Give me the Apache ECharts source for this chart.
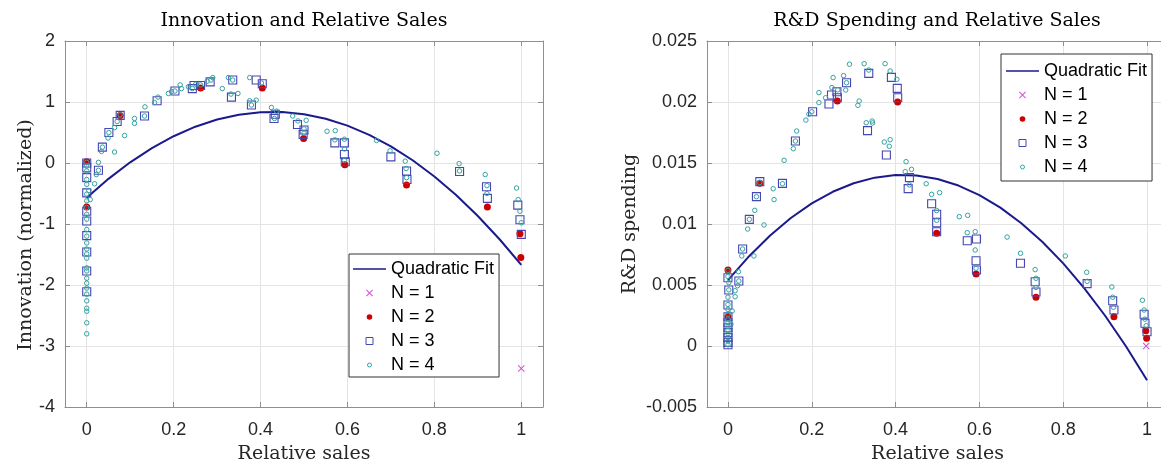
<!DOCTYPE html>
<html>
<head>
<meta charset="utf-8">
<script src="https://cdn.jsdelivr.net/npm/echarts@6/dist/echarts.min.js"></script>
<style>
html,body{margin:0;padding:0;background:#fff;}
#chart{width:1161px;height:461px;}
</style>
</head>
<body>
<div id="chart"></div>
<script>
// ---------- data ----------
const relTicks = [0, 0.2, 0.4, 0.6, 0.8, 1];
const seriesNames = ['Quadratic Fit', 'N = 1', 'N = 2', 'N = 3', 'N = 4'];

const fitX = [0,0.05,0.1,0.15,0.2,0.25,0.3,0.35,0.4,0.45,0.5,0.55,0.6,0.65,0.7,0.75,0.8,0.85,0.9,0.95,1];
const fitInnov = [-0.57,-0.26,0.011,0.244,0.439,0.595,0.713,0.792,0.833,0.836,0.80,0.726,0.613,0.462,0.273,0.045,-0.221,-0.526,-0.869,-1.25,-1.67];
const fitRD = [0.0054,0.00734,0.00904,0.01049,0.01169,0.01264,0.01334,0.0138,0.01401,0.01397,0.01369,0.01315,0.01237,0.01134,0.01006,0.00854,0.00677,0.00475,0.00248,-0.00004,-0.0028];

const innovN1 = [[1.0,-3.37]];
const innovN2 = [[0,0.02],[0,-0.72],[0.077,0.78],[0.262,1.23],[0.404,1.23],[0.499,0.40],[0.594,-0.03],[0.736,-0.36],[0.922,-0.72],[0.997,-1.16],[0.999,-1.55]];
const innovN3 = [[0,0.00],[0,-0.08],[0,-0.24],[0,-0.49],[0,-0.79],[0,-0.95],[0,-1.19],[0,-1.46],[0,-1.77],[0,-2.11],
  [0.027,-0.12],[0.036,0.26],[0.051,0.50],[0.070,0.68],[0.077,0.78],[0.133,0.77],[0.162,1.02],[0.203,1.18],[0.243,1.22],[0.247,1.27],
  [0.262,1.27],[0.284,1.33],[0.336,1.36],[0.333,1.08],[0.379,0.95],[0.390,1.36],[0.404,1.30],[0.431,0.73],[0.434,0.80],[0.485,0.63],
  [0.500,0.54],[0.498,0.47],[0.571,0.33],[0.593,0.33],[0.593,0.14],[0.595,0.02],[0.700,0.10],[0.736,-0.13],[0.737,-0.27],[0.858,-0.14],
  [0.920,-0.39],[0.922,-0.58],[0.992,-0.69],[0.997,-0.93],[1.0,-1.17]];
const innovN4 = [[0,0.01],[0,-0.05],[0,-0.13],[0,-0.27],[0,-0.35],[0,-0.51],[0,-0.62],[0,-0.73],[0,-0.84],[0,-0.92],[0,-1.09],[0,-1.20],
  [0,-1.31],[0,-1.41],[0,-1.49],[0,-1.56],[0,-1.72],[0,-1.77],[0,-1.89],[0,-1.97],[0,-2.05],[0,-2.15],[0,-2.26],[0,-2.38],[0,-2.43],[0,-2.62],[0,-2.80],
  [0.008,-0.60],[0.005,-0.45],[0.018,-0.34],[0.022,-0.19],[0.027,0.01],[0.027,-0.12],[0.034,0.19],[0.036,0.26],[0.049,0.41],[0.051,0.50],
  [0.064,0.58],[0.070,0.68],[0.077,0.79],[0.064,0.18],[0.087,0.45],[0.110,0.73],[0.110,0.65],[0.134,0.92],[0.133,0.77],[0.156,0.99],
  [0.164,1.08],[0.188,1.14],[0.195,1.17],[0.203,1.18],[0.215,1.28],[0.218,1.22],[0.234,1.25],[0.243,1.22],[0.251,1.29],[0.262,1.28],
  [0.277,1.34],[0.286,1.36],[0.290,1.40],[0.312,1.22],[0.326,1.40],[0.332,1.13],[0.348,1.14],[0.336,1.36],[0.375,1.40],[0.375,1.02],
  [0.390,1.03],[0.379,0.95],[0.402,1.31],[0.425,0.91],[0.437,0.85],[0.432,0.73],[0.474,0.77],[0.505,0.70],[0.486,0.69],[0.500,0.56],
  [0.500,0.49],[0.553,0.52],[0.572,0.53],[0.571,0.38],[0.593,0.39],[0.593,0.23],[0.593,0.04],[0.667,0.37],[0.698,0.20],[0.733,0.03],
  [0.735,-0.09],[0.736,-0.24],[0.806,0.16],[0.857,-0.01],[0.858,-0.13],[0.917,-0.19],[0.921,-0.37],[0.921,-0.50],[0.989,-0.41],
  [0.993,-0.60],[0.997,-0.79],[1.0,-0.98]];

const rdN1 = [[0.998,0.0]];
const rdN2 = [[0,0.00623],[0,0.0024],[0.076,0.01333],[0.261,0.02008],[0.405,0.0200],[0.498,0.00924],[0.592,0.0059],[0.735,0.0040],[0.921,0.0024],[0.997,0.00126],[0.999,0.00063]];
const rdN3 = [[0,0.0056],[0.002,0.00459],[0,0.00336],[0,0.0024],[0,0.0019],[0,0.0015],[0,0.0011],[0,0.0007],[0,0.0003],[0,0.0001],
  [0.026,0.00533],[0.035,0.00795],[0.051,0.01038],[0.068,0.01224],[0.076,0.01347],[0.130,0.01333],[0.161,0.0168],[0.202,0.0192],[0.241,0.01984],[0.247,0.02057],
  [0.260,0.02084],[0.261,0.02035],[0.283,0.02158],[0.336,0.02235],[0.333,0.01765],[0.378,0.01566],[0.390,0.02202],[0.404,0.02112],[0.405,0.02035],[0.433,0.0138],
  [0.430,0.0129],[0.486,0.01166],[0.498,0.0108],[0.498,0.0101],[0.498,0.00937],[0.571,0.00863],[0.593,0.00877],[0.592,0.00699],[0.593,0.00623],[0.698,0.00678],
  [0.733,0.00527],[0.735,0.00443],[0.857,0.00511],[0.918,0.00371],[0.921,0.00295],[0.993,0.0026],[0.995,0.00186],[1.0,0.00117]];
const rdN4 = [[0.290,0.0231],[0.325,0.02314],[0.375,0.02314],[0.336,0.02262],[0.387,0.02254],[0.251,0.0220],[0.276,0.02216],[0.283,0.02158],
  [0.281,0.02098],[0.217,0.02077],[0.248,0.02118],[0.262,0.0210],[0.233,0.02035],[0.217,0.01995],[0.313,0.02008],[0.310,0.01973],
  [0.403,0.02186],[0.193,0.0190],[0.186,0.01852],[0.164,0.01762],[0.161,0.0168],[0.156,0.01617],[0.330,0.0183],[0.344,0.01844],
  [0.345,0.01828],[0.373,0.01672],[0.387,0.01691],[0.385,0.01637],[0.134,0.01522],[0.108,0.01289],[0.110,0.0120],[0.064,0.01112],
  [0.086,0.00992],[0.047,0.00959],[0.425,0.01511],[0.423,0.01429],[0.438,0.01448],[0.433,0.0132],[0.473,0.0133],[0.505,0.01257],
  [0.486,0.01243],[0.498,0.0111],[0.498,0.0103],[0.552,0.0106],[0.572,0.01071],[0.571,0.00929],[0.590,0.00937],[0.590,0.00787],
  [0.592,0.00637],[0.666,0.00893],[0.698,0.0076],[0.733,0.00626],[0.735,0.00555],[0.735,0.0048],[0.805,0.00738],[0.856,0.00604],
  [0.857,0.0053],[0.916,0.00484],[0.918,0.0040],[0.920,0.00318],[0.989,0.00375],[0.993,0.00295],[0.995,0.0022],[0.998,0.00166],
  [0.033,0.00738],[0.062,0.00738],[0.025,0.00609],[0.023,0.00494],[0.017,0.00453],[0.017,0.00404],[0.010,0.00287],[0.007,0.0018],
  [0.002,0.0052],[0.002,0.0046],[0.051,0.01038],[0.068,0.01224],[0.076,0.0134],[0.130,0.0133],[0.035,0.00795],[0.026,0.00533],[0.2,0.0192],
  [0,0.0062],[0,0.0057],[0,0.0040],[0,0.0034],[0,0.0030],[0,0.0026],[0,0.0022],[0,0.0019],[0,0.0016],[0,0.0013],[0,0.0010],[0,0.0007],[0,0.0004],[0,0.0001]];

// ---------- styles ----------
const AX = '#8f8f8f';
const GRIDC = '#e4e4e4';
const TXT = '#262626';
const SANS = 'Liberation Sans';
const SERIF = 'DejaVu Serif';
const COL_FIT = '#1a1a8c';
const COL_N1 = '#d94fd9';
const COL_N2 = '#cc0000';
const COL_N3 = '#4646b4';
const COL_N4 = '#33a3a3';
const crossPath = 'path://M0,1L1,0L5,4L9,0L10,1L6,5L10,9L9,10L5,6L1,10L0,9L4,5Z';
const iconLine = 'path://M0,0L33,0L33,1.6L0,1.6Z';
const iconSquare = 'path://M0,0L8,0L8,8L0,8Z';
const iconCircleSmall = 'path://M-3.5,-3.5L-3.5,-3.5M3.5,3.5L3.5,3.5M-2,0A2,2,0,1,1,2,0A2,2,0,1,1,-2,0Z';
const iconDot = 'path://M-4,-4L-4,-4M4,4L4,4M-3.2,0A3.2,3.2,0,1,1,3.2,0A3.2,3.2,0,1,1,-3.2,0Z';

function xAxes(grid) {
  const base = {
    type: 'value', gridIndex: grid, min: -0.05, max: 1.05,
    axisLine: {show: true, onZero: false, lineStyle: {color: AX, width: 1}},
    axisTick: {show: true, inside: true, length: 5, lineStyle: {color: AX}, customValues: relTicks},
  };
  return [
    Object.assign({}, base, {
      position: 'bottom',
      name: 'Relative sales', nameLocation: 'middle', nameGap: 38,
      nameTextStyle: {fontFamily: SERIF, fontSize: 19, color: TXT},
      axisLabel: {show: true, customValues: relTicks, margin: 14, fontFamily: SANS, fontSize: 18, color: TXT,
        formatter: v => String(+(+v).toFixed(3))},
      splitLine: {show: true, lineStyle: {color: GRIDC, width: 1}}
    }),
    Object.assign({}, base, {
      position: 'top', axisLabel: {show: false}, splitLine: {show: false}
    })
  ];
}
function yAxes(grid, min, max, interval, name, gap, namePad) {
  const base = {
    type: 'value', gridIndex: grid, min: min, max: max, interval: interval,
    axisLine: {show: true, onZero: false, lineStyle: {color: AX, width: 1}},
    axisTick: {show: true, inside: true, length: 5, lineStyle: {color: AX}},
  };
  return [
    Object.assign({}, base, {
      position: 'left',
      name: name, nameLocation: 'middle', nameGap: gap,
      nameTextStyle: {fontFamily: SERIF, fontSize: 19, color: TXT, padding: namePad},
      axisLabel: {show: true, margin: 10, fontFamily: SANS, fontSize: 18, color: TXT},
      splitLine: {show: true, lineStyle: {color: GRIDC, width: 1}}
    }),
    Object.assign({}, base, {
      position: 'right', axisLabel: {show: false}, splitLine: {show: false}
    })
  ];
}

function seriesFor(xi, yi, fitY, n1, n2, n3, n4) {
  return [
    {name: seriesNames[0], type: 'line', xAxisIndex: xi, yAxisIndex: yi, symbol: 'none', showSymbol: false, z: 2,
      lineStyle: {color: COL_FIT, width: 2}, itemStyle: {color: COL_FIT},
      data: fitX.map((x, i) => [x, fitY[i]])},
    {name: seriesNames[1], type: 'scatter', xAxisIndex: xi, yAxisIndex: yi, symbol: crossPath, symbolSize: 7, z: 3,
      itemStyle: {color: COL_N1, opacity: 1}, data: n1},
    {name: seriesNames[2], type: 'scatter', xAxisIndex: xi, yAxisIndex: yi, symbol: 'circle', symbolSize: 7, z: 4,
      itemStyle: {color: COL_N2, opacity: 1}, data: n2},
    {name: seriesNames[3], type: 'scatter', xAxisIndex: xi, yAxisIndex: yi, symbol: 'rect', symbolSize: 8, z: 5,
      itemStyle: {color: 'rgba(0,0,0,0)', borderColor: COL_N3, borderWidth: 1.1, opacity: 1}, data: n3},
    {name: seriesNames[4], type: 'scatter', xAxisIndex: xi, yAxisIndex: yi, symbol: 'circle', symbolSize: 4.5, z: 6,
      itemStyle: {color: 'rgba(0,0,0,0)', borderColor: COL_N4, borderWidth: 1, opacity: 1}, data: n4}
  ];
}

function legendAt(left, top, pad) {
  return {
    orient: 'vertical', left: left, top: top, padding: pad,
    itemWidth: 33, itemHeight: 7, itemGap: 0,
    backgroundColor: '#fff', borderColor: '#333', borderWidth: 1,
    itemStyle: {borderWidth: 1},
    textStyle: {fontFamily: SANS, fontSize: 18, color: '#000', lineHeight: 24},
    data: [
      {name: seriesNames[0], icon: iconLine},
      {name: seriesNames[1], icon: crossPath},
      {name: seriesNames[2], icon: iconDot},
      {name: seriesNames[3], icon: iconSquare},
      {name: seriesNames[4], icon: iconCircleSmall}
    ]
  };
}

const chart = echarts.init(document.getElementById('chart'), null, {renderer: 'canvas'});
chart.setOption({
  animation: false,
  backgroundColor: '#fff',
  title: [
    {text: 'Innovation and Relative Sales', left: 304, top: 12, textAlign: 'center', padding: 0,
      textStyle: {fontFamily: SERIF, fontSize: 19, fontWeight: 'normal', color: '#000'}},
    {text: 'R&D Spending and Relative Sales', left: 937, top: 12, textAlign: 'center', padding: 0,
      textStyle: {fontFamily: SERIF, fontSize: 19, fontWeight: 'normal', color: '#000'}}
  ],
  grid: [
    {left: 65, top: 41, width: 478, height: 366, outerBoundsMode: 'none', containLabel: false},
    {left: 707, top: 41, width: 461, height: 366, outerBoundsMode: 'none', containLabel: false}
  ],
  xAxis: xAxes(0).concat(xAxes(1)),
  yAxis: yAxes(0, -4, 2, 1, 'Innovation (normalized)', 29, [0, 22, 0, 0])
    .concat(yAxes(1, -0.005, 0.025, 0.005, 'R&D spending', 67, 0)),
  legend: [legendAt(349, 254, [3, 5, 0, 4]), legendAt(1001, 54, [5, 5, 2, 5])],
  series: seriesFor(0, 0, fitInnov, innovN1, innovN2, innovN3, innovN4)
    .concat(seriesFor(2, 2, fitRD, rdN1, rdN2, rdN3, rdN4))
});
</script>
</body>
</html>
